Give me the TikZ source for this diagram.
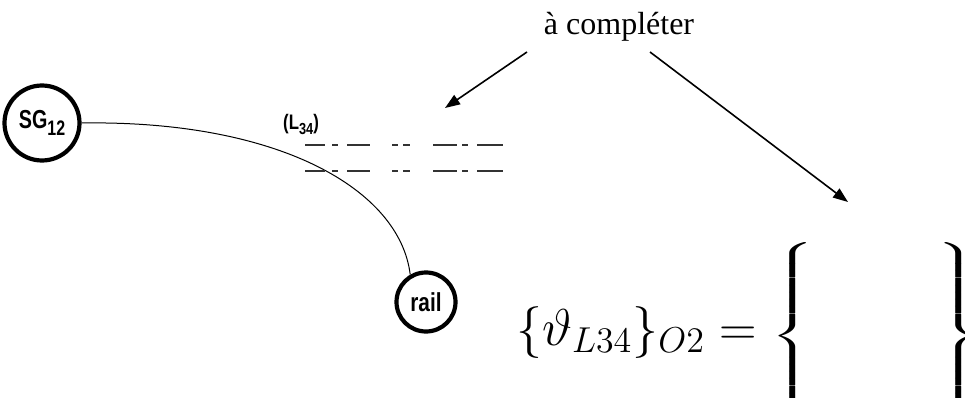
\documentclass[tikz,border=0pt]{standalone}
\usepackage{fontspec}
\setmainfont{Liberation Serif}
\newfontfamily\arialf{Liberation Sans}
\usetikzlibrary{arrows.meta}
\tikzset{
  ring/.style={circle, draw, line width=4.2pt, inner sep=0pt, font=\arialf\bfseries},
  pointer/.style={-{Triangle[length=15pt,width=11pt]}, line width=1.6pt},
  axisline/.style={line width=1.8pt, draw=black!80,
    dash pattern=on 20pt off 7pt on 6pt off 9pt on 23pt off 22pt on 6pt off 5pt on 7pt off 23pt on 24pt off 5pt on 6pt off 9pt on 26pt off 50pt},
  link/.style={line width=1pt},
  mathtext/.style={inner sep=0pt, font=\fontsize{20.74}{25}\selectfont}
}
\begin{document}
\begin{tikzpicture}[x=1pt,y=-1pt]
\useasboundingbox (0,0) rectangle (965,398);
\node[ring, minimum size=75pt] (sg) at (42,123)
  {\scalebox{0.76}[1]{\fontsize{26}{26}\selectfont SG\raisebox{-7pt}{\fontsize{21}{21}\selectfont 12}}};
\node[ring, minimum size=59pt] (rail) at (426,302)
  {\scalebox{0.8}[1]{\fontsize{26}{26}\selectfont rail}};
\draw[link] (sg.east) .. controls (280,120) and (400,190) .. (rail.120);
\node[font=\arialf\bfseries, anchor=base west, inner sep=0pt] (lab) at (283,130)
  {\scalebox{0.8}[1]{\fontsize{21}{21}\selectfont (L\raisebox{-5pt}{\fontsize{16}{16}\selectfont 34})}};
\draw[axisline] (305,145) -- (503,145);
\draw[axisline] (305,171) -- (503,171);
\node[font=\fontsize{32}{32}\selectfont, inner sep=0pt] (txt) at (619,27) {à compléter};
\coordinate (s1) at (527,52);
\coordinate (e1) at (445,108);
\coordinate (s2) at (650,52);
\coordinate (e2) at (848,202);
\draw[pointer] (s1) -- (e1);
\draw[pointer] (s2) -- (e2);
\node[mathtext, anchor=base west] (eq) at (516,345)
  {\scalebox{2.5}{$\{\vartheta_{L34}\}_{O2} =$}};
\node[mathtext, anchor=west] (lb) at (770,336)
  {\scalebox{5}[2.4]{$\left\{\vrule height 34pt depth 34pt width 0pt\right.$}};
\node[mathtext, anchor=west] (rb) at (930,336)
  {\scalebox{5}[2.4]{$\left.\vrule height 34pt depth 34pt width 0pt\right\}$}};
\end{tikzpicture}
\end{document}
